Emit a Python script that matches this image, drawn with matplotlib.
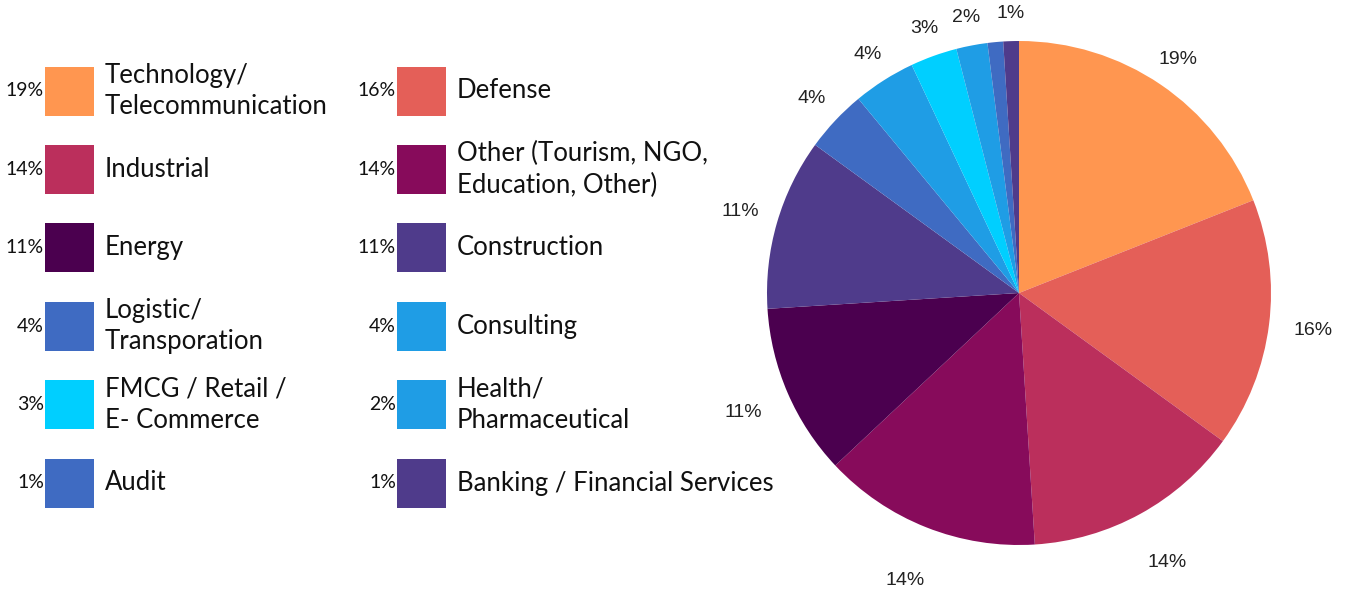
import numpy as np
import matplotlib.pyplot as plt
from matplotlib.patches import Rectangle

# данные сектора (по часовой стрелке от верха)
sectors = ['Technology/\nTelecommunication', 'Defense', 'Industrial',
           'Other (Tourism, NGO,\nEducation, Other)', 'Energy', 'Construction',
           'Logistic/\nTransporation', 'Consulting', 'FMCG / Retail /\nE- Commerce',
           'Health/\nPharmaceutical', 'Audit', 'Banking / Financial Services']
shares = [19, 16, 14, 14, 11, 11, 4, 4, 3, 2, 1, 1]
colors = ['#FF9650', '#E45F58', '#BB2F5C', '#870B5B', '#4B004F', '#4F3B8B',
          '#3F6BC2', '#1F9DE5', '#00CFFF', '#1F9DE5', '#3F6BC2', '#4F3B8B']
pct_labels = [f'{v}%' for v in shares]
# на диаграмме подпись для Audit не видна (перекрывается соседней)
hidden_pie_labels = ['Audit']

W, H = 1345, 593
fig = plt.figure(figsize=(W / 100, H / 100), dpi=100)

# круговая диаграмма
cx, cy, rad = 1019, 293, 252
ax = fig.add_axes([(cx - rad) / W, (H - cy - rad) / H, 2 * rad / W, 2 * rad / H])
wedges, _ = ax.pie(shares, colors=colors, startangle=90, counterclock=False)
# подписи: снизу чуть дальше от круга, чем сверху
for w, lab, name in zip(wedges, pct_labels, sectors):
    if name in hidden_pie_labels:
        continue
    ang = np.deg2rad((w.theta1 + w.theta2) / 2)
    r = 1.11 + 0.06 * (1 - np.sin(ang))
    ax.text(r * np.cos(ang), r * np.sin(ang), lab, ha='center', va='center',
            fontsize=14, family='Liberation Sans', color='#222222')
ax.set_xlim(-1, 1)
ax.set_ylim(-1, 1)
ax.set_aspect('equal')

# легенда в пиксельных координатах
lg = fig.add_axes([0, 0, 1, 1])
lg.set_xlim(0, W)
lg.set_ylim(H, 0)
lg.axis('off')

sq = 49
col_x = [45, 397]
row_y0, row_step = 91, 78.4
for i, (name, pct, c) in enumerate(zip(sectors, pct_labels, colors)):
    row, col = i // 2, i % 2
    yc = row_y0 + row * row_step
    x0 = col_x[col]
    lg.add_patch(Rectangle((x0, yc - sq / 2), sq, sq, color=c, lw=0))
    lg.text(x0 - 1, yc, pct, ha='right', va='center', fontsize=14,
            family='Lato', color='#111111')
    lg.text(x0 + sq + 11, yc, name, ha='left', va='center', fontsize=18.5,
            family='Lato', color='#111111', linespacing=1.32)

fig.savefig('out.png', dpi=100)
